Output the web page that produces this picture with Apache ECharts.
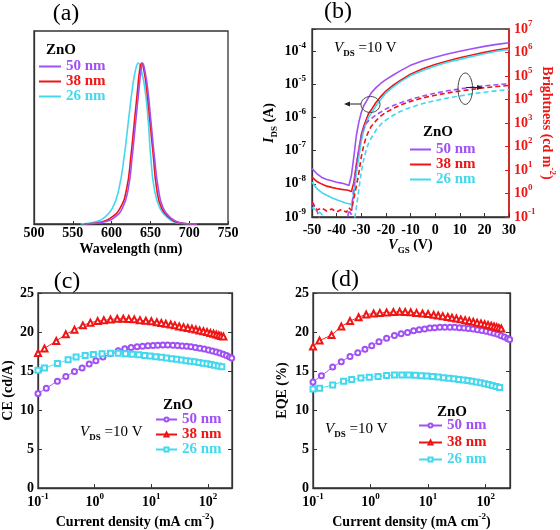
<!DOCTYPE html>
<html><head><meta charset="utf-8">
<script src="https://cdn.jsdelivr.net/npm/echarts@6/dist/echarts.min.js"></script>
<style>html,body{margin:0;padding:0;background:#fff}#c{width:560px;height:530px}</style>
</head><body><div id="c"></div>
<script>
// ---------- Panel (a): EL spectra (normalized) ----------
const specWl50 = [565,578,590,602.2,613.8,621.5,626.7,631,635.3,637.8,640,643,646.5,650.8,655,660.2,666.6,677,687,698,710];
const specI50  = [0,0.003,0.012,0.035,0.097,0.22,0.427,0.633,0.84,0.95,1.0,0.95,0.84,0.633,0.427,0.22,0.097,0.035,0.01,0.002,0];
const specWl38 = [565,575,585,598,610.8,619.4,625,629.3,633.6,636,638.8,641.8,645.2,649.5,653.7,658.1,664.6,675.3,685,698,710];
const specI38  = [0,0.003,0.01,0.035,0.097,0.22,0.427,0.633,0.84,0.95,1.0,0.95,0.84,0.633,0.427,0.22,0.097,0.035,0.01,0.002,0];
const specWl26 = [560,570,580,589.3,600.9,609.5,616.4,621.5,626.7,630.5,634.4,638.5,643,647.3,650.3,655,662.4,673,682,695,710];
const specI26  = [0,0.004,0.015,0.035,0.097,0.22,0.427,0.633,0.84,0.95,1.0,0.95,0.84,0.633,0.427,0.22,0.097,0.035,0.01,0.002,0];

// ---------- Panel (b): transfer curves ----------
const vgs = [-50,-48,-46,-44,-42,-40,-38,-36,-35,-34,-33,-32,-31,-30,-29,-28,-27,-26,-24,-22,-20,-17,-14,-10,-5,0,5,10,15,20,25,30];
const ids50 = [2.88e-8,2.0e-8,1.55e-8,1.35e-8,1.23e-8,1.12e-8,1.05e-8,9.5e-9,8.9e-9,1.78e-8,6.6e-8,2.8e-7,7.1e-7,1.41e-6,2.24e-6,3.0e-6,4.0e-6,5.4e-6,7.9e-6,1.07e-5,1.38e-5,1.9e-5,2.57e-5,3.7e-5,5.1e-5,6.5e-5,8.1e-5,9.8e-5,1.17e-4,1.38e-4,1.58e-4,1.78e-4];
const ids38 = [1.58e-8,1.17e-8,9.8e-9,8.5e-9,7.8e-9,7.2e-9,6.8e-9,6.5e-9,6.3e-9,5.8e-9,1.12e-8,3.8e-8,1.0e-7,2.95e-7,5.4e-7,8.5e-7,1.32e-6,1.66e-6,2.8e-6,4.3e-6,6.2e-6,9.3e-6,1.32e-5,2.0e-5,2.9e-5,3.9e-5,5.0e-5,6.3e-5,7.6e-5,9.1e-5,1.07e-4,1.23e-4];
const ids26 = [1.12e-8,7.1e-9,5.4e-9,4.5e-9,3.8e-9,3.3e-9,2.95e-9,2.6e-9,2.5e-9,2.4e-9,5.0e-9,2.0e-8,6.3e-8,1.9e-7,4.0e-7,6.8e-7,1.0e-6,1.32e-6,2.24e-6,3.55e-6,5.4e-6,8.3e-6,1.2e-5,1.82e-5,2.6e-5,3.55e-5,4.6e-5,5.6e-5,6.9e-5,8.3e-5,9.8e-5,1.12e-4];
const lum50 = [0.40,0.18,0.05,0.05,0.05,0.05,0.05,0.05,0.2,0.126,2.24,15.8,79,282,603,955,1260,1510,2240,2950,3980,5500,7240,10000,14100,18600,23400,28200,33100,38000,42700,46800];
const lum38 = [0.45,0.2,0.24,0.18,0.22,0.166,0.21,0.16,0.25,0.19,0.63,2.0,7.1,35.5,112,251,447,708,1260,2000,2820,4170,5890,8320,11700,15100,19100,22900,26900,31600,35500,39800];
const lum26 = [0.25,0.19,0.13,0.05,0.05,0.05,0.05,0.05,0.05,0.05,0.05,0.25,1.41,7.9,28,71,141,224,501,891,1320,2140,3160,4570,6760,8910,11500,14100,17400,20400,23400,26300];

// ---------- Panels (c),(d): CE and EQE vs current density ----------
const j50 = [0.1,0.14,0.22,0.31,0.44,0.6,0.8,1.05,1.4,1.9,2.6,3.4,4.4,5.6,7,8.7,10.7,13,16,19.5,24,29,35,42,50,60,72,86,102,120,140,162,186,212,240,262];
const ce50 = [12.1,12.8,13.7,14.3,14.95,15.4,15.9,16.3,16.8,17.2,17.6,17.85,18.0,18.1,18.18,18.24,18.28,18.31,18.33,18.33,18.3,18.27,18.22,18.16,18.1,18.02,17.92,17.82,17.7,17.58,17.45,17.3,17.15,16.98,16.8,16.68];
const eqe50 = [13.6,14.4,15.5,16.2,16.85,17.35,17.8,18.25,18.75,19.2,19.55,19.78,19.95,20.15,20.28,20.4,20.5,20.56,20.6,20.62,20.62,20.6,20.56,20.5,20.45,20.38,20.3,20.2,20.1,19.98,19.85,19.7,19.52,19.35,19.18,19.05];
const j38 = [0.1,0.13,0.21,0.31,0.44,0.62,0.84,1.13,1.45,1.9,2.5,3.2,4.0,5.0,6.3,8,10,12.5,15,18,22,26,31,37,44,52,61,71,83,96,110,125,140,155,170,187];
const ce38 = [17.3,17.9,18.85,19.7,20.3,20.85,21.2,21.4,21.5,21.6,21.7,21.7,21.68,21.62,21.52,21.45,21.38,21.25,21.15,21.05,20.95,20.85,20.72,20.62,20.52,20.42,20.32,20.2,20.1,20.0,19.88,19.77,19.67,19.58,19.5,19.42];
const eqe38 = [18.15,18.9,19.6,20.7,21.4,21.9,22.23,22.38,22.45,22.5,22.55,22.6,22.58,22.52,22.45,22.38,22.3,22.2,22.12,22.03,21.92,21.83,21.73,21.62,21.5,21.4,21.3,21.2,21.1,21.0,20.9,20.8,20.7,20.62,20.53,20.45];
const j26 = [0.1,0.13,0.22,0.34,0.47,0.68,0.95,1.35,1.9,2.6,3.5,4.6,6,7.6,9.5,12,15,18.5,23,28,34,41,49,58,69,82,96,112,130,152,175];
const ce26 = [15.1,15.4,15.95,16.45,16.8,17.0,17.12,17.22,17.27,17.27,17.22,17.15,17.07,17.0,16.92,16.83,16.75,16.68,16.58,16.5,16.42,16.33,16.25,16.17,16.08,16.0,15.92,15.83,15.74,15.65,15.55];
const eqe26 = [12.7,12.8,13.2,13.7,13.9,14.1,14.2,14.3,14.42,14.48,14.5,14.48,14.45,14.4,14.35,14.28,14.22,14.15,14.07,14.0,13.92,13.85,13.77,13.68,13.58,13.48,13.38,13.27,13.15,13.02,12.9];

const thickLabels = ['50 nm','38 nm','26 nm'];
const wlTicks = [500,550,600,650,700,750];

// ---------- styling ----------
const FONT = '"Liberation Serif","Times New Roman",serif';
const FRAME = '#333';
const PURPLE = '#a050f5', RED = '#f01414', CYAN = '#44d8ee';
const COLORS = [PURPLE, RED, CYAN];

function zip(xs, ys) { return xs.map((x, i) => [x, ys[i]]); }
function powLabel(v) {
  const e = Math.log10(v); const r = Math.round(e);
  if (Math.abs(e - r) > 1e-6) return '';
  return '{b|10}{s|' + r + '}';
}
function powRich(color) {
  return {
    b: {fontFamily: FONT, fontWeight: 'bold', fontSize: 14, lineHeight: 20, color: color},
    s: {fontFamily: FONT, fontWeight: 'bold', fontSize: 9, lineHeight: 10, verticalAlign: 'top', color: color}
  };
}
const nameRich = (color) => ({
  n: {fontFamily: FONT, fontWeight: 'bold', fontSize: 14, lineHeight: 20, color: color},
  i: {fontFamily: FONT, fontWeight: 'bold', fontStyle: 'italic', fontSize: 14, lineHeight: 20, color: color},
  sub: {fontFamily: FONT, fontWeight: 'bold', fontSize: 9, lineHeight: 10, verticalAlign: 'bottom', color: color},
  sup: {fontFamily: FONT, fontWeight: 'bold', fontSize: 9, lineHeight: 10, verticalAlign: 'top', color: color}
});
const axisLine = {show: true, onZero: false, lineStyle: {color: FRAME, width: 1.3}};
const tickIn = {show: true, inside: true, length: 4, lineStyle: {color: FRAME, width: 1}};
const lbl = {color: '#000', fontFamily: FONT, fontWeight: 'bold', fontSize: 14};

const grids = [
  {left: 34, top: 31, width: 194, height: 193},
  {left: 312, top: 29, width: 197, height: 188},
  {left: 37, top: 293, width: 195, height: 196},
  {left: 313, top: 293, width: 197, height: 196}
].map(g => Object.assign(g, {show: true, borderColor: FRAME, borderWidth: 1.3, backgroundColor: 'transparent'}));

const xAxis = [
  {gridIndex: 0, type: 'value', min: wlTicks[0], max: wlTicks[wlTicks.length-1], interval: 50,
   axisLine, axisTick: {show: true, inside: true, length: 3, lineStyle: {color: FRAME}}, splitLine: {show: false},
   axisLabel: Object.assign({margin: 2}, lbl),
   name: 'Wavelength (nm)', nameLocation: 'middle', nameGap: 18,
   nameTextStyle: {fontFamily: FONT, fontWeight: 'bold', fontSize: 14, color: '#000'}},
  {gridIndex: 1, type: 'value', min: -50, max: 30, interval: 10,
   axisLine, axisTick: tickIn, splitLine: {show: false},
   axisLabel: Object.assign({margin: 6}, lbl),
   name: '{i|V}{sub|GS}{n| (V)}', nameLocation: 'middle', nameGap: 16,
   nameTextStyle: {rich: nameRich('#000')}},
  {gridIndex: 2, type: 'log', min: 0.1, max: 265,
   axisLine, axisTick: tickIn, splitLine: {show: false},
   axisLabel: {margin: 4, formatter: powLabel, rich: powRich('#000'), showMinLabel: true, showMaxLabel: true},
   name: '{n|Current density (mA cm}{sup|-2}{n|)}', nameLocation: 'middle', nameGap: 24,
   nameTextStyle: {rich: nameRich('#000')}},
  {gridIndex: 3, type: 'log', min: 0.1, max: 265,
   axisLine, axisTick: tickIn, splitLine: {show: false},
   axisLabel: {margin: 4, formatter: powLabel, rich: powRich('#000'), showMinLabel: true, showMaxLabel: true},
   name: '{n|Current density (mA cm}{sup|-2}{n|)}', nameLocation: 'middle', nameGap: 24,
   nameTextStyle: {rich: nameRich('#000')}}
];

const yAxis = [
  {gridIndex: 0, type: 'value', min: 0, max: 1.2, axisLine, axisTick: {show: false}, axisLabel: {show: false}, splitLine: {show: false}},
  {gridIndex: 1, type: 'log', min: 1e-9, max: 4.6e-4, position: 'left',
   axisLine, axisTick: tickIn, splitLine: {show: false},
   axisLabel: {margin: 6, formatter: powLabel, rich: powRich('#000'), showMinLabel: true, showMaxLabel: true},
   name: '{i|I}{sub|DS}{n| (A)}', nameLocation: 'middle', nameGap: 33,
   nameTextStyle: {rich: nameRich('#000')}},
  {gridIndex: 1, type: 'log', min: 0.1, max: 1e7, position: 'right',
   axisLine: {show: true, onZero: false, lineStyle: {color: RED, width: 1.5}},
   axisTick: {show: true, inside: true, length: 4, lineStyle: {color: RED, width: 1}}, splitLine: {show: false},
   axisLabel: {margin: 5, formatter: powLabel, rich: powRich(RED), showMinLabel: true, showMaxLabel: true},
   name: '{n|Brightness (cd m}{sup|-2}{n|)}', nameLocation: 'middle', nameGap: 28, nameRotate: -90,
   nameTextStyle: {rich: nameRich(RED)}},
  {gridIndex: 2, type: 'value', min: 0, max: 25, interval: 5,
   axisLine, axisTick: tickIn, splitLine: {show: false}, axisLabel: Object.assign({margin: 4}, lbl),
   name: 'CE (cd/A)', nameLocation: 'middle', nameGap: 23,
   nameTextStyle: {fontFamily: FONT, fontWeight: 'bold', fontSize: 14, color: '#000'}},
  {gridIndex: 3, type: 'value', min: 0, max: 25, interval: 5,
   axisLine, axisTick: tickIn, splitLine: {show: false}, axisLabel: Object.assign({margin: 4}, lbl),
   name: 'EQE (%)', nameLocation: 'middle', nameGap: 24,
   nameTextStyle: {fontFamily: FONT, fontWeight: 'bold', fontSize: 14, color: '#000'}},
  {gridIndex: 2, type: 'value', min: 0, max: 25, interval: 5, position: 'right',
   axisLine, axisTick: tickIn, axisLabel: {show: false}, splitLine: {show: false}},
  {gridIndex: 3, type: 'value', min: 0, max: 25, interval: 5, position: 'right',
   axisLine, axisTick: tickIn, axisLabel: {show: false}, splitLine: {show: false}}
];

const series = [];
// (a)
[[specWl50, specI50], [specWl38, specI38], [specWl26, specI26]].forEach((d, k) => {
  series.push({name: 'a|' + thickLabels[k], type: 'line', xAxisIndex: 0, yAxisIndex: 0,
    data: zip(d[0], d[1]), symbol: 'none', smooth: 0.5, z: 3 - k,
    lineStyle: {color: COLORS[k], width: 1.6}, itemStyle: {color: COLORS[k]}});
});
// (b) solid I_DS
[ids50, ids38, ids26].forEach((d, k) => {
  series.push({name: 'b|' + thickLabels[k], type: 'line', xAxisIndex: 1, yAxisIndex: 1,
    data: zip(vgs, d), symbol: 'none', lineStyle: {color: COLORS[k], width: 1.6}, itemStyle: {color: COLORS[k]}});
});
// (b) dashed brightness
[lum50, lum38, lum26].forEach((d, k) => {
  series.push({name: 'bl|' + thickLabels[k], type: 'line', xAxisIndex: 1, yAxisIndex: 2,
    data: zip(vgs, d), symbol: 'none', lineStyle: {color: COLORS[k], width: 1.6, type: [5, 3]}, itemStyle: {color: COLORS[k]}});
});
const syms = ['emptyCircle', 'emptyTriangle', 'emptyRect'];
const symSizes = [5, 6, 5];
// (c)
[[j50, ce50], [j38, ce38], [j26, ce26]].forEach((d, k) => {
  series.push({name: 'c|' + thickLabels[k], type: 'line', xAxisIndex: 2, yAxisIndex: 3,
    data: zip(d[0], d[1]), symbol: syms[k], symbolSize: symSizes[k],
    lineStyle: {color: COLORS[k], width: 0.9}, itemStyle: {color: COLORS[k], borderWidth: 0.8}});
});
// (d)
[[j50, eqe50], [j38, eqe38], [j26, eqe26]].forEach((d, k) => {
  series.push({name: 'd|' + thickLabels[k], type: 'line', xAxisIndex: 3, yAxisIndex: 4,
    data: zip(d[0], d[1]), symbol: syms[k], symbolSize: symSizes[k],
    lineStyle: {color: COLORS[k], width: 0.9}, itemStyle: {color: COLORS[k], borderWidth: 0.8}});
});

function legendFor(prefix, left, top, itemW, itemH, gap, plainLine) {
  return {
    orient: 'vertical', left: left, top: top, itemWidth: itemW, itemHeight: itemH, itemGap: gap, padding: 0,
    selectedMode: false,
    formatter: n => n.split('|')[1],
    textStyle: {fontFamily: FONT, fontWeight: 'bold', fontSize: 15},
    data: thickLabels.map((t, k) => {
      const d = {name: prefix + '|' + t, textStyle: {color: COLORS[k]}};
      if (plainLine) d.icon = 'rect';
      return d;
    })
  };
}
const legend = [
  legendFor('a', 39, 59, 22, 2, 0, true),
  legendFor('b', 410, 142, 21, 2, 0, true),
  legendFor('c', 155, 412, 21, 5, 0, false),
  legendFor('d', 418, 418, 23, 5, 2, false)
];

const txt = (x, y, text, extra) => ({type: 'text', x: x, y: y, z: 100,
  style: Object.assign({text: text, fontFamily: FONT, fill: '#000', align: 'center', verticalAlign: 'middle'}, extra || {})});
const vdsRich = {
  i: {fontFamily: FONT, fontStyle: 'italic', fontSize: 15, lineHeight: 20, fill: '#000'},
  sub: {fontFamily: FONT, fontWeight: 'bold', fontSize: 9, lineHeight: 10, verticalAlign: 'bottom', fill: '#000'},
  n: {fontFamily: FONT, fontSize: 15, lineHeight: 20, fill: '#000'}
};
const vdsText = '{i|V}{sub|DS}{n| =10 V}';
const graphic = [
  txt(66, 14, '(a)', {fontSize: 24}),
  txt(338, 12, '(b)', {fontSize: 24}),
  txt(67, 282, '(c)', {fontSize: 24}),
  txt(345, 280, '(d)', {fontSize: 24}),
  txt(61, 50, 'ZnO', {fontSize: 15, fontWeight: 'bold'}),
  txt(438, 132, 'ZnO', {fontSize: 15, fontWeight: 'bold'}),
  txt(178, 405, 'ZnO', {fontSize: 15, fontWeight: 'bold'}),
  txt(452, 412, 'ZnO', {fontSize: 15, fontWeight: 'bold'}),
  txt(334, 48, vdsText, {align: 'left', rich: vdsRich}),
  txt(80, 432, vdsText, {align: 'left', rich: vdsRich}),
  txt(325, 429, vdsText, {align: 'left', rich: vdsRich}),
  {type: 'ellipse', z: 100, shape: {cx: 370.5, cy: 104.5, rx: 9.5, ry: 8}, style: {fill: 'none', stroke: '#444', lineWidth: 1}},
  {type: 'line', z: 100, shape: {x1: 361, y1: 104, x2: 348, y2: 104}, style: {stroke: '#222', lineWidth: 1}},
  {type: 'polygon', z: 100, shape: {points: [[344, 104], [350, 101.5], [350, 106.5]]}, style: {fill: '#222'}},
  {type: 'ellipse', z: 100, shape: {cx: 465.3, cy: 88.7, rx: 7.3, ry: 15.7}, style: {fill: 'none', stroke: '#444', lineWidth: 1}},
  {type: 'line', z: 100, shape: {x1: 466, y1: 87.5, x2: 479, y2: 87.5}, style: {stroke: '#222', lineWidth: 1}},
  {type: 'polygon', z: 100, shape: {points: [[483, 87.5], [477, 85], [477, 90]]}, style: {fill: '#222'}}
];

const chart = echarts.init(document.getElementById('c'), null, {renderer: 'canvas'});
chart.setOption({
  animation: false,
  backgroundColor: '#fff',
  grid: grids, xAxis: xAxis, yAxis: yAxis, series: series, legend: legend, graphic: graphic
});
</script></body></html>
